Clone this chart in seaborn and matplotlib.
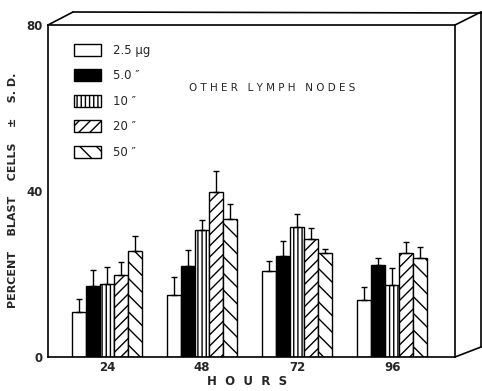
import pandas as pd
import matplotlib.pyplot as plt
import seaborn as sns
from matplotlib.lines import Line2D

# values
hours = ['24', '48', '72', '96']
doses = ['2.5 \u00b5g', '5.0 \u2033', '10 \u2033', '20 \u2033', '50 \u2033']
pct = {
    '2.5 \u00b5g': [10.7, 14.9, 20.6, 13.7],
    '5.0 \u2033': [17.1, 21.9, 24.3, 22.2],
    '10 \u2033': [17.5, 30.5, 31.2, 17.2],
    '20 \u2033': [19.8, 39.8, 28.4, 24.9],
    '50 \u2033': [25.5, 33.3, 25.1, 23.9],
}
sd = {
    '2.5 \u00b5g': [3.2, 4.4, 2.5, 3.2],
    '5.0 \u2033': [3.8, 3.7, 3.5, 1.7],
    '10 \u2033': [4.0, 2.4, 3.3, 4.2],
    '20 \u2033': [2.9, 5.0, 2.5, 2.8],
    '50 \u2033': [3.7, 3.6, 0.8, 2.6],
}
fills = ['white', 'black', 'white', 'white', 'white']
hatches = ['', '', '||||', '///', '\\\\']

rows = []
for d in doses:
    for h, v in zip(hours, pct[d]):
        rows.append({'hours': h, 'dose': d, 'pct': v})
df = pd.DataFrame(rows)

sns.set_style('white')
plt.rcParams['font.family'] = ['DejaVu Sans']
plt.rcParams['hatch.linewidth'] = 1.0

fig = plt.figure(figsize=(4.82, 3.91), dpi=100)
ax = fig.add_axes([48 / 482, 1 - 356.7 / 391, 407 / 482, 332 / 391])

sns.barplot(data=df, x='hours', y='pct', hue='dose', hue_order=doses,
            order=hours, palette=fills, width=0.735, gap=0,
            edgecolor='black', linewidth=1.0, errorbar=None,
            saturation=1, legend=False, ax=ax)

for cont, d, hat in zip(ax.containers, doses, hatches):
    xs = []
    for p in cont.patches:
        p.set_hatch(hat)
        p.set_edgecolor('black')
        xs.append(p.get_x() + p.get_width() / 2)
    ax.errorbar(xs, pct[d], yerr=[[0] * len(xs), sd[d]], fmt='none',
                ecolor='black', elinewidth=1.0, capsize=2, capthick=1.0)

ax.set_xlim(-0.62, 3.66)
ax.set_ylim(0, 80)
ax.set_yticks([0, 20, 40, 60, 80])
ax.set_yticklabels(['0', '', '40', '', '80'], fontweight='bold', fontsize=8.5)
ax.set_xticks(range(4))
ax.set_xticklabels(hours, fontweight='bold', fontsize=8.5)
ax.tick_params(axis='y', direction='out', length=3, width=1, pad=1)
ax.tick_params(axis='x', length=0, pad=3)
for s in ax.spines.values():
    s.set_color('black')
    s.set_linewidth(1.2)

ax.set_xlabel('H  O  U  R  S', fontweight='bold', fontsize=8.5)
ax.xaxis.set_label_coords(0.49, -0.055)
ax.set_ylabel('PERCENT    BLAST    CELLS    \u00b1    S. D.',
              fontweight='bold', fontsize=8)
ax.yaxis.set_label_coords(-0.074, 0.5)

ax.text(0.55, 0.81, 'O T H E R   L Y M P H   N O D E S', transform=ax.transAxes,
        ha='center', va='center', fontsize=7.5)

ax.legend(ax.containers, doses, loc='upper left', bbox_to_anchor=(0.05, 0.96),
          frameon=False, fontsize=8.5, handlelength=2.3, handleheight=1.2,
          labelspacing=1.05, handletextpad=1.0, borderpad=0)

# 3D box outline
def px(x, y):
    return x / 482, 1 - y / 391

segs = [((48, 25), (73, 12)), ((73, 12), (482, 13)), ((455, 25), (481, 12)),
        ((481, 12), (481, 347)), ((455, 357), (481, 347))]
for a, b in segs:
    (x0, y0), (x1, y1) = px(*a), px(*b)
    fig.add_artist(Line2D([x0, x1], [y0, y1], color='black', lw=1.2,
                          transform=fig.transFigure))

fig.savefig('out.png', dpi=100)
